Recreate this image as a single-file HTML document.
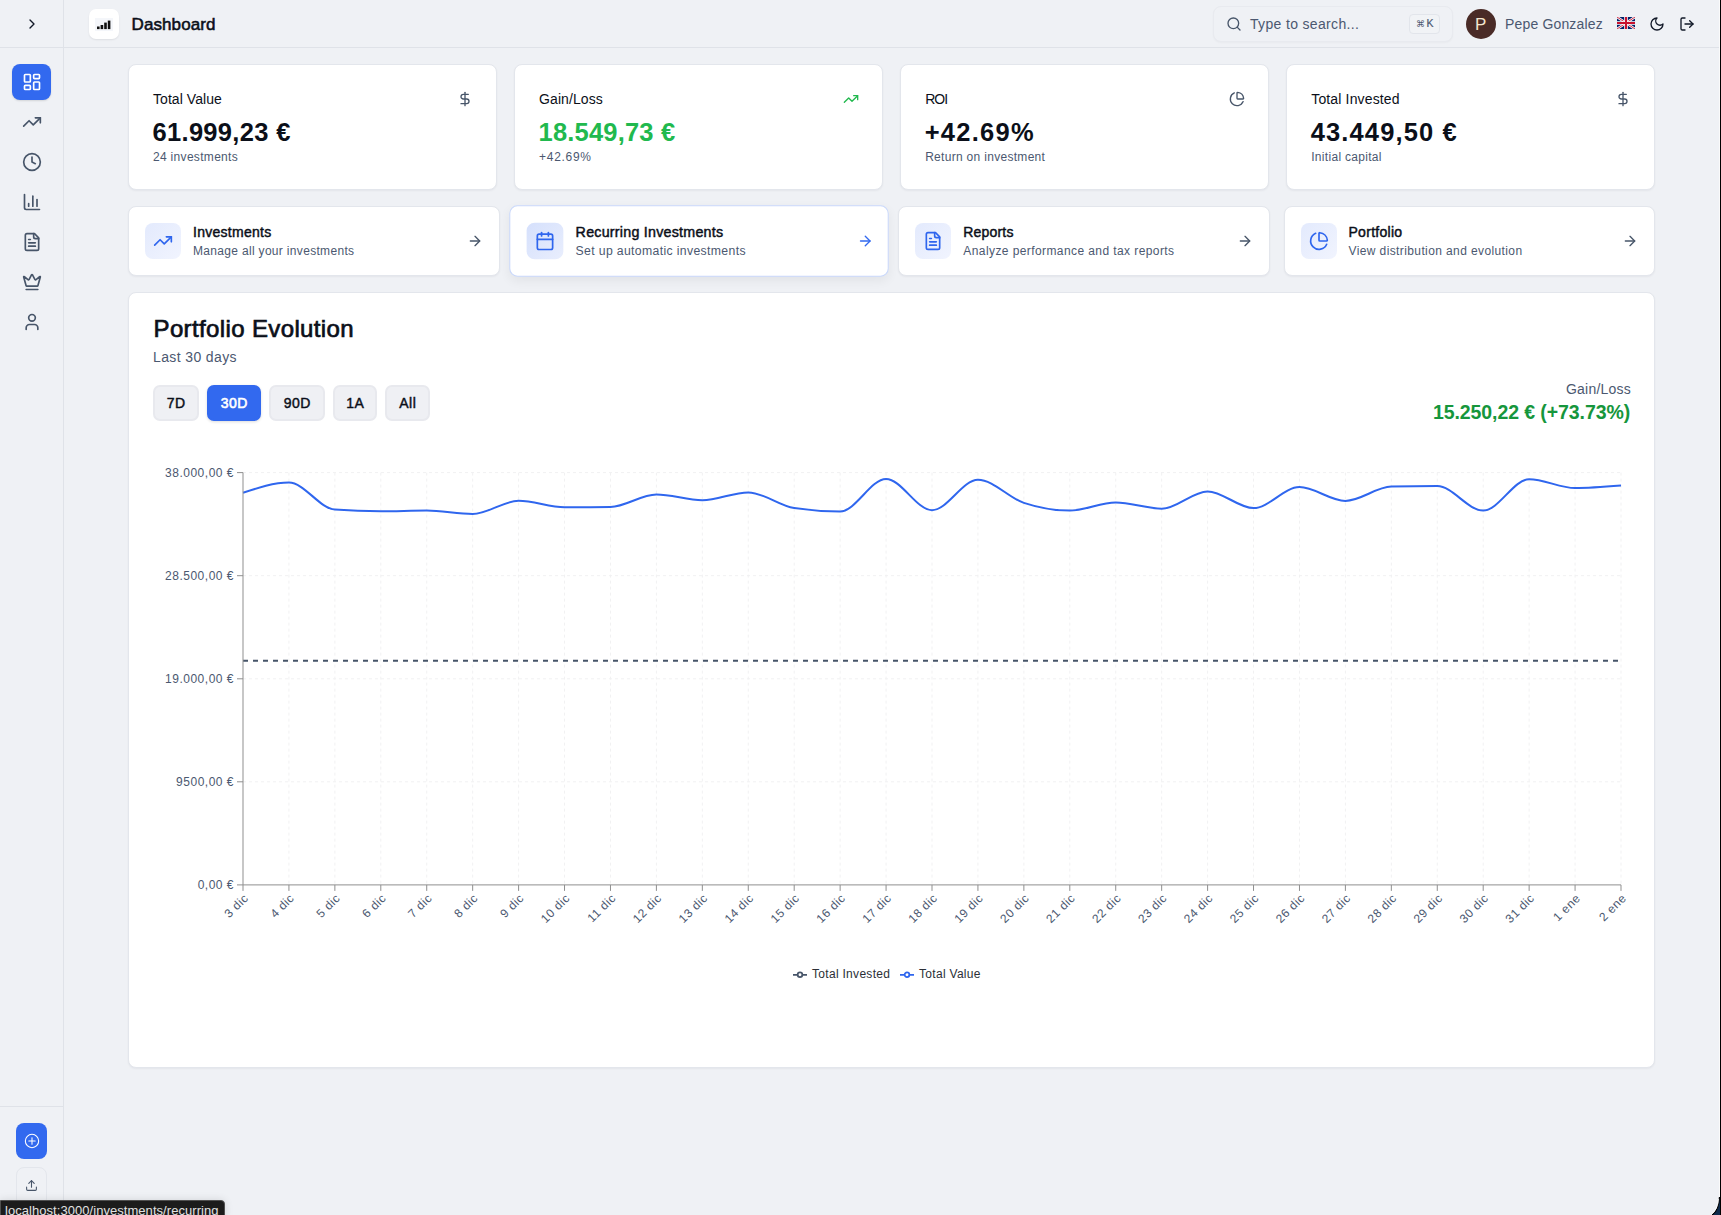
<!DOCTYPE html>
<html>
<head>
<meta charset="utf-8">
<style>
*{box-sizing:border-box;margin:0;padding:0}
html,body{width:1721px;height:1215px;overflow:hidden}
body{position:relative;background:#eff1f5;font-family:"Liberation Sans",sans-serif;color:#0b0f19}
.abs{position:absolute}
svg.i{fill:none;stroke:currentColor;stroke-width:2;stroke-linecap:round;stroke-linejoin:round;display:block}
.t{position:absolute;white-space:nowrap;line-height:1}
.nav{position:absolute;left:12px;width:39px;height:36px;border-radius:8px;color:#475569;display:flex;align-items:center;justify-content:center}
.nav.act{background:#3269ef;color:#fff;box-shadow:0 1px 2px rgba(0,0,0,.12)}
.card{position:absolute;background:#fff;border:1px solid #e3e6ec;border-radius:8px;box-shadow:0 1px 2px rgba(16,24,40,.05)}
.lbl{color:#0b0f19}
.muted{color:#4b5870}
.btn{position:absolute;background:#eff0f4;border:2px solid #e8e9ee;border-radius:7px}
.btn.act{background:#3269ef;border-color:#3269ef;box-shadow:0 1px 3px rgba(0,0,0,.14)}
</style>
</head>
<body>
<div class="abs" style="left:63px;top:0;width:1px;height:1215px;background:#dfe2e8"></div>
<div class="abs" style="left:0;top:47px;width:1719px;height:1px;background:#dfe2e8"></div>
<svg class="i abs" style="left:24px;top:16px;color:#111827;" width="16" height="16" viewBox="0 0 24 24"><path d="m9 18 6-6-6-6"/></svg>
<div class="nav act" style="top:64px"><svg class="i" width="20" height="20" viewBox="0 0 24 24"><rect width="7" height="9" x="3" y="3" rx="1"/><rect width="7" height="5" x="14" y="3" rx="1"/><rect width="7" height="9" x="14" y="12" rx="1"/><rect width="7" height="5" x="3" y="16" rx="1"/></svg></div>
<div class="nav" style="top:104px"><svg class="i" width="20" height="20" viewBox="0 0 24 24"><polyline points="22 7 13.5 15.5 8.5 10.5 2 17"/><polyline points="16 7 22 7 22 13"/></svg></div>
<div class="nav" style="top:144px"><svg class="i" width="20" height="20" viewBox="0 0 24 24"><circle cx="12" cy="12" r="10"/><polyline points="12 6 12 12 16 14"/></svg></div>
<div class="nav" style="top:184px"><svg class="i" width="20" height="20" viewBox="0 0 24 24"><path d="M3 3v16a2 2 0 0 0 2 2h16"/><path d="M18 17V9"/><path d="M13 17V5"/><path d="M8 17v-3"/></svg></div>
<div class="nav" style="top:224px"><svg class="i" width="20" height="20" viewBox="0 0 24 24"><path d="M15 2H6a2 2 0 0 0-2 2v16a2 2 0 0 0 2 2h12a2 2 0 0 0 2-2V7Z"/><path d="M14 2v4a2 2 0 0 0 2 2h4"/><path d="M10 9H8"/><path d="M16 13H8"/><path d="M16 17H8"/></svg></div>
<div class="nav" style="top:264px"><svg class="i" width="20" height="20" viewBox="0 0 24 24"><path d="M11.562 3.266a.5.5 0 0 1 .876 0L15.39 8.87a1 1 0 0 0 1.516.294L21.183 5.5a.5.5 0 0 1 .798.519l-2.834 10.246a1 1 0 0 1-.956.734H5.81a1 1 0 0 1-.957-.734L2.02 6.02a.5.5 0 0 1 .798-.519l4.276 3.664a1 1 0 0 0 1.516-.294z"/><path d="M5 21h14"/></svg></div>
<div class="nav" style="top:304px"><svg class="i" width="20" height="20" viewBox="0 0 24 24"><path d="M19 21v-2a4 4 0 0 0-4-4H9a4 4 0 0 0-4 4v2"/><circle cx="12" cy="7" r="4"/></svg></div>
<div class="abs" style="left:0;top:1106px;width:63px;height:1px;background:#dfe2e8"></div>
<div class="abs" style="left:16px;top:1123px;width:31px;height:36px;border-radius:8px;background:#3269ef"></div>
<svg class="i abs" style="left:24px;top:1133px;color:#fff;stroke-width:1.6;" width="16" height="16" viewBox="0 0 24 24"><circle cx="12" cy="12" r="10"/><path d="M7.2 12h9.6"/><path d="M12 7.2v9.6"/></svg>
<div class="abs" style="left:16px;top:1167px;width:31px;height:40px;border-radius:8px;border:1px solid #e3e6ec"></div>
<svg class="i abs" style="left:25px;top:1179.3px;color:#475569;" width="13" height="13" viewBox="0 0 24 24"><path d="M21 15v4a2 2 0 0 1-2 2H5a2 2 0 0 1-2-2v-4"/><polyline points="17 8 12 3 7 8"/><line x1="12" x2="12" y1="3" y2="15"/></svg>
<div class="abs" style="left:89px;top:9px;width:30px;height:30px;border-radius:7px;background:#fff;box-shadow:0 1px 2px rgba(0,0,0,.08)"></div>
<div class="abs" style="left:95px;top:18px;width:18px;height:13px;background:#f4f6fa"></div>
<svg class="abs" style="left:97px;top:20px" width="14" height="10" viewBox="0 0 14 10"><rect x="0" y="6.5" width="2.6" height="2.6" fill="#111"/><rect x="3.6" y="5" width="2.6" height="4.1" fill="#111"/><rect x="7.2" y="2.6" width="2.6" height="6.5" fill="#111"/><rect x="10.8" y="0.6" width="2.6" height="8.5" fill="#111"/></svg>
<div class="t" style="left:131.5px;top:16px;font-size:17px;color:#0b0f19;letter-spacing:0.1px;-webkit-text-stroke:0.45px currentColor;-webkit-text-stroke:0.55px currentColor;">Dashboard</div>
<div class="abs" style="left:1213px;top:6px;width:240px;height:36px;border-radius:8px;border:1px solid #e8eaef;background:#eff1f5;box-shadow:0 1px 2px rgba(0,0,0,.03)"></div>
<svg class="i abs" style="left:1226px;top:16px;color:#475569;" width="16" height="16" viewBox="0 0 24 24"><circle cx="11" cy="11" r="8"/><path d="m21 21-4.3-4.3"/></svg>
<div class="t" style="left:1250px;top:17px;font-size:14px;color:#4b5870;letter-spacing:0.34px;">Type to search...</div>
<div class="abs" style="left:1409px;top:14px;width:31px;height:20px;border-radius:4px;border:1px solid #e2e5eb;background:#f1f3f6"></div>
<div class="t" style="left:1415.5px;top:20px;font-size:8.5px;color:#4b5870;letter-spacing:0px;">&#8984;</div>
<div class="t" style="left:1426.5px;top:18px;font-size:10.5px;color:#4b5870;letter-spacing:0px;-webkit-text-stroke:0.45px currentColor;-webkit-text-stroke:0.2px currentColor;">K</div>
<div class="abs" style="left:1466px;top:9px;width:30px;height:30px;border-radius:50%;background:#4a2b27"></div>
<div class="t" style="left:1475px;top:16px;font-size:17px;color:#f3e6cf;letter-spacing:0px;">P</div>
<div class="t" style="left:1505px;top:16.5px;font-size:14px;color:#4b5870;letter-spacing:0.16px;">Pepe Gonzalez</div>
<svg class="abs" style="left:1617px;top:17px" width="18" height="12" viewBox="0 0 60 40"><rect width="60" height="40" fill="#012169"/><path d="M0,0 60,40 M60,0 0,40" stroke="#fff" stroke-width="8"/><path d="M0,0 60,40 M60,0 0,40" stroke="#C8102E" stroke-width="3"/><path d="M30,0 V40 M0,20 H60" stroke="#fff" stroke-width="12"/><path d="M30,0 V40 M0,20 H60" stroke="#C8102E" stroke-width="7"/></svg>
<svg class="i abs" style="left:1649px;top:16px;color:#111827;" width="16" height="16" viewBox="0 0 24 24"><path d="M12 3a6 6 0 0 0 9 9 9 9 0 1 1-9-9Z"/></svg>
<svg class="i abs" style="left:1679px;top:16px;color:#111827;" width="16" height="16" viewBox="0 0 24 24"><path d="M9 21H5a2 2 0 0 1-2-2V5a2 2 0 0 1 2-2h4"/><polyline points="16 17 21 12 16 7"/><line x1="21" x2="9" y1="12" y2="12"/></svg>
<div class="card" style="left:128.00px;top:64px;width:368.75px;height:126px"></div>
<div class="t" style="left:153.0px;top:91.5px;font-size:14px;color:#0b0f19;letter-spacing:0.06px;">Total Value</div>
<svg class="i abs" style="left:456.75px;top:90.5px;color:#475569;" width="16" height="16" viewBox="0 0 24 24"><line x1="12" x2="12" y1="2" y2="22"/><path d="M17 5H9.5a3.5 3.5 0 0 0 0 7h5a3.5 3.5 0 0 1 0 7H6"/></svg>
<div class="t" style="left:152.5px;top:120px;font-size:25.5px;color:#0b0f19;letter-spacing:0.31px;font-weight:700;">61.999,23 €</div>
<div class="t" style="left:153.0px;top:151px;font-size:12px;color:#4b5870;letter-spacing:0.31px;">24 investments</div>
<div class="card" style="left:514.08px;top:64px;width:368.75px;height:126px"></div>
<div class="t" style="left:539.0799999999999px;top:91.5px;font-size:14px;color:#0b0f19;letter-spacing:0.08px;">Gain/Loss</div>
<svg class="i abs" style="left:842.83px;top:90.5px;color:#21b94e;" width="16" height="16" viewBox="0 0 24 24"><polyline points="22 7 13.5 15.5 8.5 10.5 2 17"/><polyline points="16 7 22 7 22 13"/></svg>
<div class="t" style="left:538.5799999999999px;top:120px;font-size:25.5px;color:#21b94e;letter-spacing:0.19px;font-weight:700;">18.549,73 €</div>
<div class="t" style="left:539.0799999999999px;top:151px;font-size:12px;color:#4b5870;letter-spacing:0.7px;">+42.69%</div>
<div class="card" style="left:900.16px;top:64px;width:368.75px;height:126px"></div>
<div class="t" style="left:925.16px;top:91.5px;font-size:14px;color:#0b0f19;letter-spacing:-1.0px;">ROI</div>
<svg class="i abs" style="left:1228.91px;top:90.5px;color:#475569;" width="16" height="16" viewBox="0 0 24 24"><path d="M21 12c.552 0 1.005-.449.95-.998a10 10 0 0 0-8.953-8.951c-.55-.055-.998.398-.998.95v8a1 1 0 0 0 1 1z"/><path d="M21.21 15.89A10 10 0 1 1 8 2.83"/></svg>
<div class="t" style="left:924.66px;top:120px;font-size:25.5px;color:#0b0f19;letter-spacing:1.27px;font-weight:700;">+42.69%</div>
<div class="t" style="left:925.16px;top:151px;font-size:12px;color:#4b5870;letter-spacing:0.3px;">Return on investment</div>
<div class="card" style="left:1286.24px;top:64px;width:368.75px;height:126px"></div>
<div class="t" style="left:1311.24px;top:91.5px;font-size:14px;color:#0b0f19;letter-spacing:0.15px;">Total Invested</div>
<svg class="i abs" style="left:1614.99px;top:90.5px;color:#475569;" width="16" height="16" viewBox="0 0 24 24"><line x1="12" x2="12" y1="2" y2="22"/><path d="M17 5H9.5a3.5 3.5 0 0 0 0 7h5a3.5 3.5 0 0 1 0 7H6"/></svg>
<div class="t" style="left:1310.74px;top:120px;font-size:25.5px;color:#0b0f19;letter-spacing:1.12px;font-weight:700;">43.449,50 €</div>
<div class="t" style="left:1311.24px;top:151px;font-size:12px;color:#4b5870;letter-spacing:0.3px;">Initial capital</div>
<div class="card" style="left:128.00px;top:206px;width:371.5px;height:70px;"><div class="abs" style="left:16px;top:16px;width:36px;height:36px;border-radius:8px;background:linear-gradient(135deg,#e3eafd,#f1f4fe)"></div><svg class="i abs" style="left:24px;top:24px;color:#2f66ee;" width="20" height="20" viewBox="0 0 24 24"><polyline points="22 7 13.5 15.5 8.5 10.5 2 17"/><polyline points="16 7 22 7 22 13"/></svg><div class="t" style="left:64px;top:18px;font-size:14px;color:#0b0f19;letter-spacing:0.27px;-webkit-text-stroke:0.45px currentColor;">Investments</div><div class="t" style="left:64px;top:38px;font-size:12px;color:#4b5870;letter-spacing:0.32px;">Manage all your investments</div><svg class="i abs" style="left:337.5px;top:26px;color:#475569;" width="16" height="16" viewBox="0 0 24 24"><path d="M5 12h14"/><path d="m12 5 7 7-7 7"/></svg></div>
<div class="card" style="left:513.17px;top:206px;width:371.5px;height:70px;transform:scale(1.02);border-color:#c9d8fb;box-shadow:0 4px 10px rgba(0,0,0,.06);"><div class="abs" style="left:16px;top:16px;width:36px;height:36px;border-radius:8px;background:linear-gradient(135deg,#d5e0fc,#e9eefd)"></div><svg class="i abs" style="left:24px;top:24px;color:#2f66ee;" width="20" height="20" viewBox="0 0 24 24"><path d="M8 2v4"/><path d="M16 2v4"/><rect width="18" height="18" x="3" y="4" rx="2"/><path d="M3 10h18"/></svg><div class="t" style="left:64px;top:18px;font-size:14px;color:#0b0f19;letter-spacing:0.23px;-webkit-text-stroke:0.45px currentColor;">Recurring Investments</div><div class="t" style="left:64px;top:38px;font-size:12px;color:#4b5870;letter-spacing:0.34px;">Set up automatic investments</div><svg class="i abs" style="left:339.5px;top:26px;color:#3269ef;" width="16" height="16" viewBox="0 0 24 24"><path d="M5 12h14"/><path d="m12 5 7 7-7 7"/></svg></div>
<div class="card" style="left:898.34px;top:206px;width:371.5px;height:70px;"><div class="abs" style="left:16px;top:16px;width:36px;height:36px;border-radius:8px;background:linear-gradient(135deg,#e3eafd,#f1f4fe)"></div><svg class="i abs" style="left:24px;top:24px;color:#2f66ee;" width="20" height="20" viewBox="0 0 24 24"><path d="M15 2H6a2 2 0 0 0-2 2v16a2 2 0 0 0 2 2h12a2 2 0 0 0 2-2V7Z"/><path d="M14 2v4a2 2 0 0 0 2 2h4"/><path d="M10 9H8"/><path d="M16 13H8"/><path d="M16 17H8"/></svg><div class="t" style="left:64px;top:18px;font-size:14px;color:#0b0f19;letter-spacing:0.18px;-webkit-text-stroke:0.45px currentColor;">Reports</div><div class="t" style="left:64px;top:38px;font-size:12px;color:#4b5870;letter-spacing:0.41px;">Analyze performance and tax reports</div><svg class="i abs" style="left:337.5px;top:26px;color:#475569;" width="16" height="16" viewBox="0 0 24 24"><path d="M5 12h14"/><path d="m12 5 7 7-7 7"/></svg></div>
<div class="card" style="left:1283.51px;top:206px;width:371.5px;height:70px;"><div class="abs" style="left:16px;top:16px;width:36px;height:36px;border-radius:8px;background:linear-gradient(135deg,#e3eafd,#f1f4fe)"></div><svg class="i abs" style="left:24px;top:24px;color:#2f66ee;" width="20" height="20" viewBox="0 0 24 24"><path d="M21 12c.552 0 1.005-.449.95-.998a10 10 0 0 0-8.953-8.951c-.55-.055-.998.398-.998.95v8a1 1 0 0 0 1 1z"/><path d="M21.21 15.89A10 10 0 1 1 8 2.83"/></svg><div class="t" style="left:64px;top:18px;font-size:14px;color:#0b0f19;letter-spacing:0.28px;-webkit-text-stroke:0.45px currentColor;">Portfolio</div><div class="t" style="left:64px;top:38px;font-size:12px;color:#4b5870;letter-spacing:0.39px;">View distribution and evolution</div><svg class="i abs" style="left:337.5px;top:26px;color:#475569;" width="16" height="16" viewBox="0 0 24 24"><path d="M5 12h14"/><path d="m12 5 7 7-7 7"/></svg></div>
<div class="card" style="left:128px;top:292px;width:1527px;height:776px"></div>
<div class="t" style="left:153.5px;top:317px;font-size:24px;color:#0b0f19;letter-spacing:0.37px;-webkit-text-stroke:0.45px currentColor;-webkit-text-stroke:0.7px currentColor;">Portfolio Evolution</div>
<div class="t" style="left:153px;top:350px;font-size:14px;color:#4b5870;letter-spacing:0.38px;">Last 30 days</div>
<div class="btn" style="left:153px;top:385px;width:46px;height:36px"></div>
<div class="t" style="left:153px;top:396px;width:46px;text-align:center;font-size:14px;letter-spacing:0.5px;text-indent:0.5px;color:#0b0f19;-webkit-text-stroke:0.45px currentColor;">7D</div>
<div class="btn act" style="left:207px;top:385px;width:54px;height:36px"></div>
<div class="t" style="left:207px;top:396px;width:54px;text-align:center;font-size:14px;letter-spacing:0.5px;text-indent:0.5px;color:#fff;-webkit-text-stroke:0.6px #fff;">30D</div>
<div class="btn" style="left:269px;top:385px;width:56px;height:36px"></div>
<div class="t" style="left:269px;top:396px;width:56px;text-align:center;font-size:14px;letter-spacing:0.5px;text-indent:0.5px;color:#0b0f19;-webkit-text-stroke:0.45px currentColor;">90D</div>
<div class="btn" style="left:333px;top:385px;width:44px;height:36px"></div>
<div class="t" style="left:333px;top:396px;width:44px;text-align:center;font-size:14px;letter-spacing:0.5px;text-indent:0.5px;color:#0b0f19;-webkit-text-stroke:0.45px currentColor;">1A</div>
<div class="btn" style="left:385px;top:385px;width:45px;height:36px"></div>
<div class="t" style="left:385px;top:396px;width:45px;text-align:center;font-size:14px;letter-spacing:0.5px;text-indent:0.5px;color:#0b0f19;-webkit-text-stroke:0.45px currentColor;">All</div>
<div class="t" style="left:1566px;top:382px;font-size:14px;color:#4b5870;letter-spacing:0.22px;">Gain/Loss</div>
<div class="t" style="left:1433px;top:403px;font-size:19.5px;color:#16963c;letter-spacing:-0.09px;font-weight:700;">15.250,22 € (+73.73%)</div>
<svg class="abs" style="left:0;top:0" width="1721" height="1215" viewBox="0 0 1721 1215"><g stroke="#f1f1f2" stroke-dasharray="3 3" stroke-width="1"><line x1="243" y1="781.8" x2="1621" y2="781.8"/><line x1="243" y1="678.8" x2="1621" y2="678.8"/><line x1="243" y1="575.7" x2="1621" y2="575.7"/><line x1="243" y1="472.6" x2="1621" y2="472.6"/><line x1="288.93" y1="472.6" x2="288.93" y2="884.9"/><line x1="334.87" y1="472.6" x2="334.87" y2="884.9"/><line x1="380.80" y1="472.6" x2="380.80" y2="884.9"/><line x1="426.73" y1="472.6" x2="426.73" y2="884.9"/><line x1="472.67" y1="472.6" x2="472.67" y2="884.9"/><line x1="518.60" y1="472.6" x2="518.60" y2="884.9"/><line x1="564.53" y1="472.6" x2="564.53" y2="884.9"/><line x1="610.47" y1="472.6" x2="610.47" y2="884.9"/><line x1="656.40" y1="472.6" x2="656.40" y2="884.9"/><line x1="702.33" y1="472.6" x2="702.33" y2="884.9"/><line x1="748.27" y1="472.6" x2="748.27" y2="884.9"/><line x1="794.20" y1="472.6" x2="794.20" y2="884.9"/><line x1="840.13" y1="472.6" x2="840.13" y2="884.9"/><line x1="886.07" y1="472.6" x2="886.07" y2="884.9"/><line x1="932.00" y1="472.6" x2="932.00" y2="884.9"/><line x1="977.93" y1="472.6" x2="977.93" y2="884.9"/><line x1="1023.87" y1="472.6" x2="1023.87" y2="884.9"/><line x1="1069.80" y1="472.6" x2="1069.80" y2="884.9"/><line x1="1115.73" y1="472.6" x2="1115.73" y2="884.9"/><line x1="1161.67" y1="472.6" x2="1161.67" y2="884.9"/><line x1="1207.60" y1="472.6" x2="1207.60" y2="884.9"/><line x1="1253.53" y1="472.6" x2="1253.53" y2="884.9"/><line x1="1299.47" y1="472.6" x2="1299.47" y2="884.9"/><line x1="1345.40" y1="472.6" x2="1345.40" y2="884.9"/><line x1="1391.33" y1="472.6" x2="1391.33" y2="884.9"/><line x1="1437.27" y1="472.6" x2="1437.27" y2="884.9"/><line x1="1483.20" y1="472.6" x2="1483.20" y2="884.9"/><line x1="1529.13" y1="472.6" x2="1529.13" y2="884.9"/><line x1="1575.07" y1="472.6" x2="1575.07" y2="884.9"/><line x1="1621.00" y1="472.6" x2="1621.00" y2="884.9"/></g><line x1="243" y1="660.7" x2="1621" y2="660.7" stroke="#475569" stroke-width="2" stroke-dasharray="5 5"/><path d="M243.00,492.80C258.31,487.70,273.62,482.60,288.93,482.60C304.24,482.60,319.56,508.47,334.87,509.60C350.18,510.73,365.49,511.30,380.80,511.30C396.11,511.30,411.42,510.60,426.73,510.60C442.04,510.60,457.36,514.00,472.67,514.00C487.98,514.00,503.29,500.80,518.60,500.80C533.91,500.80,549.22,507.30,564.53,507.30C579.84,507.30,595.16,507.17,610.47,506.90C625.78,506.63,641.09,494.50,656.40,494.50C671.71,494.50,687.02,500.20,702.33,500.20C717.64,500.20,732.96,492.40,748.27,492.40C763.58,492.40,778.89,505.83,794.20,508.10C809.51,510.37,824.82,511.50,840.13,511.50C855.44,511.50,870.76,479.00,886.07,479.00C901.38,479.00,916.69,510.20,932.00,510.20C947.31,510.20,962.62,479.70,977.93,479.70C993.24,479.70,1008.56,497.77,1023.87,502.90C1039.18,508.03,1054.49,510.60,1069.80,510.60C1085.11,510.60,1100.42,502.50,1115.73,502.50C1131.04,502.50,1146.36,508.70,1161.67,508.70C1176.98,508.70,1192.29,491.40,1207.60,491.40C1222.91,491.40,1238.22,508.10,1253.53,508.10C1268.84,508.10,1284.16,487.10,1299.47,487.10C1314.78,487.10,1330.09,500.90,1345.40,500.90C1360.71,500.90,1376.02,486.93,1391.33,486.60C1406.64,486.27,1421.96,486.10,1437.27,486.10C1452.58,486.10,1467.89,510.60,1483.20,510.60C1498.51,510.60,1513.82,479.20,1529.13,479.20C1544.44,479.20,1559.76,488.10,1575.07,488.10C1590.38,488.10,1605.69,486.85,1621.00,485.60" fill="none" stroke="#2f66ee" stroke-width="2"/><g stroke="#8f8f8f" stroke-width="1"><line x1="243" y1="472.6" x2="243" y2="884.9"/><line x1="243" y1="884.9" x2="1621" y2="884.9"/><line x1="237" y1="884.9" x2="243" y2="884.9"/><line x1="237" y1="781.8" x2="243" y2="781.8"/><line x1="237" y1="678.8" x2="243" y2="678.8"/><line x1="237" y1="575.7" x2="243" y2="575.7"/><line x1="237" y1="472.6" x2="243" y2="472.6"/><line x1="243.00" y1="884.9" x2="243.00" y2="890.9"/><line x1="288.93" y1="884.9" x2="288.93" y2="890.9"/><line x1="334.87" y1="884.9" x2="334.87" y2="890.9"/><line x1="380.80" y1="884.9" x2="380.80" y2="890.9"/><line x1="426.73" y1="884.9" x2="426.73" y2="890.9"/><line x1="472.67" y1="884.9" x2="472.67" y2="890.9"/><line x1="518.60" y1="884.9" x2="518.60" y2="890.9"/><line x1="564.53" y1="884.9" x2="564.53" y2="890.9"/><line x1="610.47" y1="884.9" x2="610.47" y2="890.9"/><line x1="656.40" y1="884.9" x2="656.40" y2="890.9"/><line x1="702.33" y1="884.9" x2="702.33" y2="890.9"/><line x1="748.27" y1="884.9" x2="748.27" y2="890.9"/><line x1="794.20" y1="884.9" x2="794.20" y2="890.9"/><line x1="840.13" y1="884.9" x2="840.13" y2="890.9"/><line x1="886.07" y1="884.9" x2="886.07" y2="890.9"/><line x1="932.00" y1="884.9" x2="932.00" y2="890.9"/><line x1="977.93" y1="884.9" x2="977.93" y2="890.9"/><line x1="1023.87" y1="884.9" x2="1023.87" y2="890.9"/><line x1="1069.80" y1="884.9" x2="1069.80" y2="890.9"/><line x1="1115.73" y1="884.9" x2="1115.73" y2="890.9"/><line x1="1161.67" y1="884.9" x2="1161.67" y2="890.9"/><line x1="1207.60" y1="884.9" x2="1207.60" y2="890.9"/><line x1="1253.53" y1="884.9" x2="1253.53" y2="890.9"/><line x1="1299.47" y1="884.9" x2="1299.47" y2="890.9"/><line x1="1345.40" y1="884.9" x2="1345.40" y2="890.9"/><line x1="1391.33" y1="884.9" x2="1391.33" y2="890.9"/><line x1="1437.27" y1="884.9" x2="1437.27" y2="890.9"/><line x1="1483.20" y1="884.9" x2="1483.20" y2="890.9"/><line x1="1529.13" y1="884.9" x2="1529.13" y2="890.9"/><line x1="1575.07" y1="884.9" x2="1575.07" y2="890.9"/><line x1="1621.00" y1="884.9" x2="1621.00" y2="890.9"/></g><g font-family="Liberation Sans" font-size="12" fill="#4b5870" letter-spacing="0.5"><text x="234" y="884.9" dy="0.355em" text-anchor="end">0,00 €</text><text x="234" y="781.8" dy="0.355em" text-anchor="end">9500,00 €</text><text x="234" y="678.8" dy="0.355em" text-anchor="end">19.000,00 €</text><text x="234" y="575.7" dy="0.355em" text-anchor="end">28.500,00 €</text><text x="234" y="472.6" dy="0.355em" text-anchor="end">38.000,00 €</text><text x="243.00" y="892.9" dy="0.71em" text-anchor="end" transform="rotate(-45 243.00 892.9)">3 dic</text><text x="288.93" y="892.9" dy="0.71em" text-anchor="end" transform="rotate(-45 288.93 892.9)">4 dic</text><text x="334.87" y="892.9" dy="0.71em" text-anchor="end" transform="rotate(-45 334.87 892.9)">5 dic</text><text x="380.80" y="892.9" dy="0.71em" text-anchor="end" transform="rotate(-45 380.80 892.9)">6 dic</text><text x="426.73" y="892.9" dy="0.71em" text-anchor="end" transform="rotate(-45 426.73 892.9)">7 dic</text><text x="472.67" y="892.9" dy="0.71em" text-anchor="end" transform="rotate(-45 472.67 892.9)">8 dic</text><text x="518.60" y="892.9" dy="0.71em" text-anchor="end" transform="rotate(-45 518.60 892.9)">9 dic</text><text x="564.53" y="892.9" dy="0.71em" text-anchor="end" transform="rotate(-45 564.53 892.9)">10 dic</text><text x="610.47" y="892.9" dy="0.71em" text-anchor="end" transform="rotate(-45 610.47 892.9)">11 dic</text><text x="656.40" y="892.9" dy="0.71em" text-anchor="end" transform="rotate(-45 656.40 892.9)">12 dic</text><text x="702.33" y="892.9" dy="0.71em" text-anchor="end" transform="rotate(-45 702.33 892.9)">13 dic</text><text x="748.27" y="892.9" dy="0.71em" text-anchor="end" transform="rotate(-45 748.27 892.9)">14 dic</text><text x="794.20" y="892.9" dy="0.71em" text-anchor="end" transform="rotate(-45 794.20 892.9)">15 dic</text><text x="840.13" y="892.9" dy="0.71em" text-anchor="end" transform="rotate(-45 840.13 892.9)">16 dic</text><text x="886.07" y="892.9" dy="0.71em" text-anchor="end" transform="rotate(-45 886.07 892.9)">17 dic</text><text x="932.00" y="892.9" dy="0.71em" text-anchor="end" transform="rotate(-45 932.00 892.9)">18 dic</text><text x="977.93" y="892.9" dy="0.71em" text-anchor="end" transform="rotate(-45 977.93 892.9)">19 dic</text><text x="1023.87" y="892.9" dy="0.71em" text-anchor="end" transform="rotate(-45 1023.87 892.9)">20 dic</text><text x="1069.80" y="892.9" dy="0.71em" text-anchor="end" transform="rotate(-45 1069.80 892.9)">21 dic</text><text x="1115.73" y="892.9" dy="0.71em" text-anchor="end" transform="rotate(-45 1115.73 892.9)">22 dic</text><text x="1161.67" y="892.9" dy="0.71em" text-anchor="end" transform="rotate(-45 1161.67 892.9)">23 dic</text><text x="1207.60" y="892.9" dy="0.71em" text-anchor="end" transform="rotate(-45 1207.60 892.9)">24 dic</text><text x="1253.53" y="892.9" dy="0.71em" text-anchor="end" transform="rotate(-45 1253.53 892.9)">25 dic</text><text x="1299.47" y="892.9" dy="0.71em" text-anchor="end" transform="rotate(-45 1299.47 892.9)">26 dic</text><text x="1345.40" y="892.9" dy="0.71em" text-anchor="end" transform="rotate(-45 1345.40 892.9)">27 dic</text><text x="1391.33" y="892.9" dy="0.71em" text-anchor="end" transform="rotate(-45 1391.33 892.9)">28 dic</text><text x="1437.27" y="892.9" dy="0.71em" text-anchor="end" transform="rotate(-45 1437.27 892.9)">29 dic</text><text x="1483.20" y="892.9" dy="0.71em" text-anchor="end" transform="rotate(-45 1483.20 892.9)">30 dic</text><text x="1529.13" y="892.9" dy="0.71em" text-anchor="end" transform="rotate(-45 1529.13 892.9)">31 dic</text><text x="1575.07" y="892.9" dy="0.71em" text-anchor="end" transform="rotate(-45 1575.07 892.9)">1 ene</text><text x="1621.00" y="892.9" dy="0.71em" text-anchor="end" transform="rotate(-45 1621.00 892.9)">2 ene</text></g><g fill="none" stroke-width="1.75"><path stroke="#475569" d="M793,974.8h4.67A2.33,2.33,0,1,1,802.33,974.8H807M802.33,974.8A2.33,2.33,0,1,1,797.67,974.8"/><path stroke="#2f66ee" d="M900,974.8h4.67A2.33,2.33,0,1,1,909.33,974.8H914M909.33,974.8A2.33,2.33,0,1,1,904.67,974.8"/></g><g font-family="Liberation Sans" font-size="12" fill="#2b2f36" letter-spacing="0.3"><text x="812" y="978">Total Invested</text><text x="919" y="978">Total Value</text></g></svg>
<div class="abs" style="left:0;top:1200px;width:225px;height:20px;background:#1c1c1c;border:1px solid #505050;border-radius:0 4px 0 0;box-shadow:0 0 8px rgba(0,0,0,.12)"></div>
<div class="t" style="left:5px;top:1203.5px;font-size:13px;color:#e2e2e2;letter-spacing:0.05px;">localhost:3000/investments/recurring</div>
<div class="abs" style="left:1719px;top:0;width:1px;height:1215px;background:#fafafa"></div>
<svg class="abs" style="left:1700px;top:1190px" width="21" height="25" viewBox="1700 1190 21 25"><path d="M1719.5,1197 Q1719,1210 1712,1215 L1721,1215 L1721,1197 Z" fill="#0e2a4c"/><path d="M1719.5,1197 Q1719,1210 1712,1215" fill="none" stroke="#000" stroke-width="1.2"/><path d="M1718.5,1199 Q1718,1209 1711,1215" fill="none" stroke="#fff" stroke-width="0.8"/></svg>
<div class="abs" style="left:1720px;top:0;width:1px;height:1215px;background:#000"></div>
</body>
</html>
